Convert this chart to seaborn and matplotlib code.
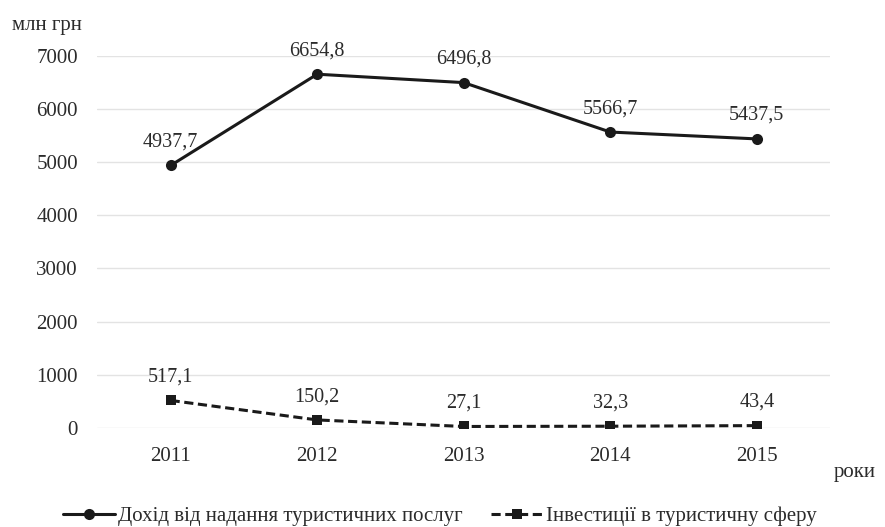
import pandas as pd
import matplotlib.pyplot as plt
import seaborn as sns

years = ["2011", "2012", "2013", "2014", "2015"]
income = [4937.7, 6654.8, 6496.8, 5566.7, 5437.5]
invest = [517.1, 150.2, 27.1, 32.3, 43.4]
income_name = "Дохід від надання туристичних послуг"
invest_name = "Інвестиції в туристичну сферу"

sns.set_style("white")
plt.rcParams['font.family'] = ['Liberation Serif', 'DejaVu Serif']

df = pd.DataFrame({"year": years, "income": income, "invest": invest})

fig = plt.figure(figsize=(8.85, 5.27), dpi=100)
ax = fig.add_axes([0.110, 0.188, 0.828, 0.706])

sns.lineplot(data=df, x="year", y="income", ax=ax, color="#1a1a1a", linewidth=2.2,
             marker="o", markersize=8, markeredgewidth=0, label=income_name, sort=False)
sns.lineplot(data=df, x="year", y="invest", ax=ax, color="#1a1a1a", linewidth=2.2,
             linestyle=(0, (3, 1.5)), marker="s", markersize=7, markeredgewidth=0,
             label=invest_name, sort=False)

def fmt(v):
    return f"{v:.1f}".replace(".", ",")

# value labels above each point
for i, (a, b) in enumerate(zip(income, invest)):
    ax.annotate(fmt(a), (i, a), xytext=(0, 10), textcoords="offset points",
                ha="center", va="bottom", fontsize=14.5, color="#2b2b2b")
    ax.annotate(fmt(b), (i, b), xytext=(0, 10), textcoords="offset points",
                ha="center", va="bottom", fontsize=14.5, color="#2b2b2b")

ax.set_xlim(-0.5, 4.5)
ax.set_ylim(0, 7000)
ax.set_yticks(range(0, 7001, 1000))
ax.yaxis.grid(True, color="#e3e3e3", linewidth=1)
ax.xaxis.grid(False)
for s in ax.spines.values():
    s.set_visible(False)
ax.tick_params(axis="both", length=0, labelsize=15, colors="#2b2b2b", pad=14)
ax.set_xlabel("")
ax.set_ylabel("")

fig.text(0.013, 0.952, "млн грн", fontsize=15, color="#2b2b2b", ha="left", va="center")
fig.text(0.942, 0.104, "роки", fontsize=15, color="#2b2b2b", ha="left", va="center")

ax.legend(loc="center", bbox_to_anchor=(0.497, 0.02), bbox_transform=fig.transFigure,
          ncol=2, frameon=False, fontsize=15, handlelength=2.5, handletextpad=0.1,
          columnspacing=1.4, labelcolor="#2b2b2b", borderaxespad=0)

fig.savefig("out.png", dpi=100)
